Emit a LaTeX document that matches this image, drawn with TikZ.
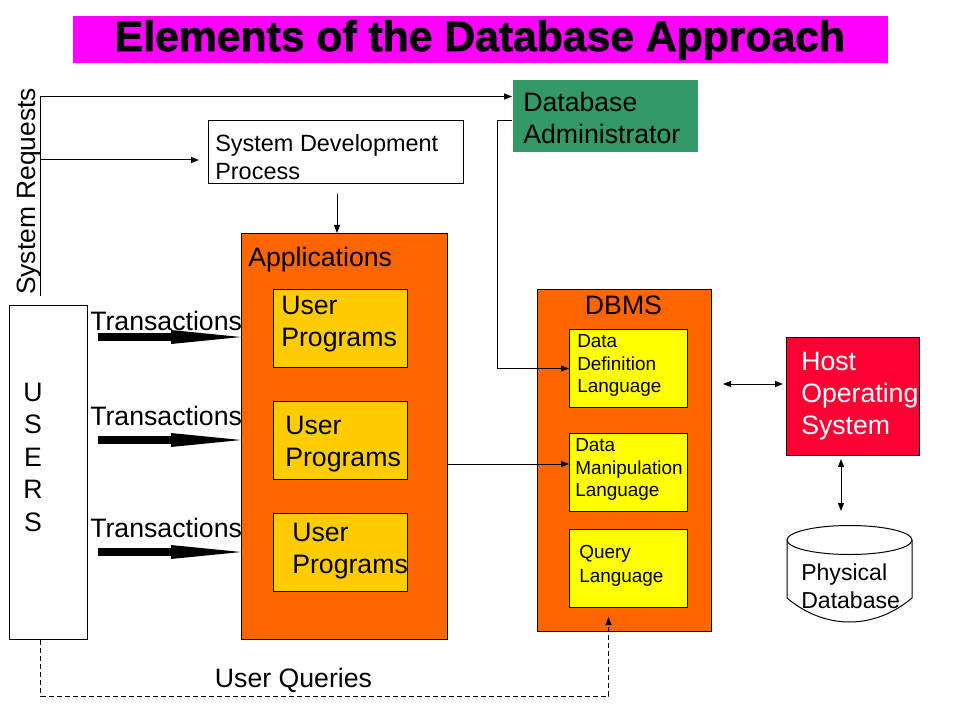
\documentclass[tikz,border=0pt]{standalone}
\usepackage{fontspec}
\setmainfont{Liberation Sans}
\newfontfamily\titlefont{Liberation Sans}[UprightFeatures={FakeBold=1.6},BoldFeatures={FakeBold=1.6}]
\usetikzlibrary{arrows.meta,shapes.geometric}
\definecolor{dbmagenta}{HTML}{FF00FF}
\definecolor{dborange}{HTML}{FF6600}
\definecolor{dbgold}{HTML}{FFCC00}
\definecolor{dbyellow}{HTML}{FFFF00}
\definecolor{dbgreen}{HTML}{339966}
\definecolor{dbred}{HTML}{FF0033}
\begin{document}
\begin{tikzpicture}[x=0.75pt,y=-0.75pt,
  boxnode/.style={draw=black,line width=0.75pt,inner sep=0pt,anchor=north west},
  txt/.style={inner sep=0pt,anchor=north west,align=left},
  big/.style={font=\fontsize{20}{24}\selectfont},
  small/.style={font=\fontsize{14.2}{17}\selectfont},
  conn/.style={line width=0.75pt,-{Triangle[length=6pt,width=4.5pt]}},
  both/.style={line width=0.75pt,{Triangle[length=6pt,width=4.5pt]}-{Triangle[length=6pt,width=4.5pt]}},
  thickarrow/.style={line width=6pt,-{Triangle[length=52.5pt,width=10.5pt,line width=0pt]}},
  ubox/.style={boxnode,fill=dbgold,minimum width=100.5pt,minimum height=58.5pt},
  ybox/.style={boxnode,fill=dbyellow,minimum width=88.5pt,minimum height=58.5pt}]
\fill[white] (0,0) rectangle (960,720);
\useasboundingbox (0,0) rectangle (960,720);

% title
\node[boxnode,draw=none,fill=dbmagenta,minimum width=611.25pt,minimum height=35.25pt,
  font=\titlefont\bfseries\fontsize{32}{38}\selectfont] (title) at (72,16) {Elements of the Database Approach};

% users
\node[boxnode,fill=white,minimum width=58.5pt,minimum height=250.5pt] (users) at (9,305) {};
\node[inner sep=0pt,anchor=north,align=center,font=\fontsize{20}{24.4}\selectfont] (userstxt) at (33,382.4) {U\\S\\E\\R\\S};

% system requests
\node[inner sep=0pt,rotate=90,anchor=base,font=\fontsize{19.8}{24}\selectfont] (sreq) at (36,191.5) {System Requests};

% system development process
\node[boxnode,fill=white,minimum width=191.25pt,minimum height=47.25pt] (sdp) at (208,120) {};
\node[txt,font=\fontsize{17.6}{21}\selectfont] (sdptxt) at (215,134.5) {System Development\\Process};

% applications
\node[boxnode,fill=dborange,minimum width=154.5pt,minimum height=304.5pt] (apps) at (241,233) {};
\node[txt,big] (appstxt) at (248,247.4) {Applications};
\node[ubox] (up1) at (273,289) {};
\node[ubox] (up2) at (273,401) {};
\node[ubox] (up3) at (273,513) {};
\node[txt,big] (up1txt) at (281,295.4) {User\\Programs};
\node[txt,big] (up2txt) at (285,415.4) {User\\Programs};
\node[txt,big] (up3txt) at (292,522.4) {User\\Programs};

% transactions
\node[txt,big] (tr1) at (90,311.4) {Transactions};
\node[txt,big] (tr2) at (90,406.4) {Transactions};
\node[txt,big] (tr3) at (90,518.4) {Transactions};
\coordinate (t1) at (0,337);
\coordinate (t2) at (0,440);
\coordinate (t3) at (0,552);
\draw[thickarrow,shorten <=7.5pt] (users.east |- t1) -- (apps.west |- t1);
\draw[thickarrow,shorten <=7.5pt] (users.east |- t2) -- (apps.west |- t2);
\draw[thickarrow,shorten <=7.5pt] (users.east |- t3) -- (apps.west |- t3);

% database administrator
\node[boxnode,draw=none,fill=dbgreen,minimum width=138.75pt,minimum height=54pt] (dba) at (512,80) {};
\node[txt,big] (dbatxt) at (523,92.4) {Database\\Administrator};

% DBMS
\node[boxnode,fill=dborange,minimum width=130.5pt,minimum height=256.5pt] (dbms) at (537,289) {};
\node[inner sep=0pt,anchor=north,big] (dbmstxt) at (623.5,295.4) {DBMS};
\node[ybox] (ddl) at (569,329) {};
\node[ybox] (dml) at (569,433) {};
\node[ybox] (ql) at (569,529) {};
\node[txt,small] (ddltxt) at (577,334.2) {Data\\Definition\\Language};
\node[txt,small] (dmltxt) at (575,438.2) {Data\\Manipulation\\Language};
\node[txt,font=\fontsize{14.2}{18}\selectfont] (qltxt) at (579,545.2) {Query\\Language};

% host operating system
\node[boxnode,fill=dbred,minimum width=99.75pt,minimum height=88.5pt] (host) at (786,337) {};
\node[txt,big,text=white] (hosttxt) at (801,351.4) {Host\\Operating\\System};

% physical database (cylinder)
\draw[line width=0.75pt,fill=white] (787,540) -- (787,598) .. controls (825,630) and (874,630) .. (912,598) -- (912,540);
\node[draw,ellipse,line width=0.75pt,fill=white,minimum width=93.75pt,minimum height=21.75pt,inner sep=0pt] (cyl) at (849.5,540) {};
\node[txt,font=\fontsize{17.3}{21}\selectfont] (cyltxt) at (801,563.7) {Physical\\Database};

% connectors
\coordinate (srbot) at (40,296);
\coordinate (srtop) at (40,96.5);
\coordinate (srmid) at (40,160);
\draw[conn] (srbot) -- (srtop) -- (srtop -| dba.west);
\draw[conn,shorten >=6.75pt] (srmid) -- (srmid -| sdp.west);

\coordinate (sdpx) at (337,0);
\draw[conn,shorten <=7.5pt] (sdp.south -| sdpx) -- (apps.north -| sdpx);

\draw[conn] ([yshift=-3pt]dba.west) -- ++(-15,0) |- (ddl.west);

\coordinate (am) at (0,464);
\draw[conn] (apps.east |- am) -- (dml.west |- am);

\coordinate (dh) at (0,384);
\draw[both,shorten <=8.25pt,shorten >=2.25pt] (dbms.east |- dh) -- (host.west |- dh);

\coordinate (hc) at (841,0);
\draw[both,shorten <=2.25pt,shorten >=10.5pt] (host.south -| hc) -- (cyl.north -| hc);

\coordinate (uqc) at (40.5,696);
\coordinate (uqend) at (608.5,617);
\draw[conn,dash pattern=on 3.75pt off 2.25pt] (users.south -| uqc) -- (uqc) -| (uqend);
\node[inner sep=0pt,anchor=north,big] (uqtxt) at (293.5,668.4) {User Queries};
\end{tikzpicture}
\end{document}
